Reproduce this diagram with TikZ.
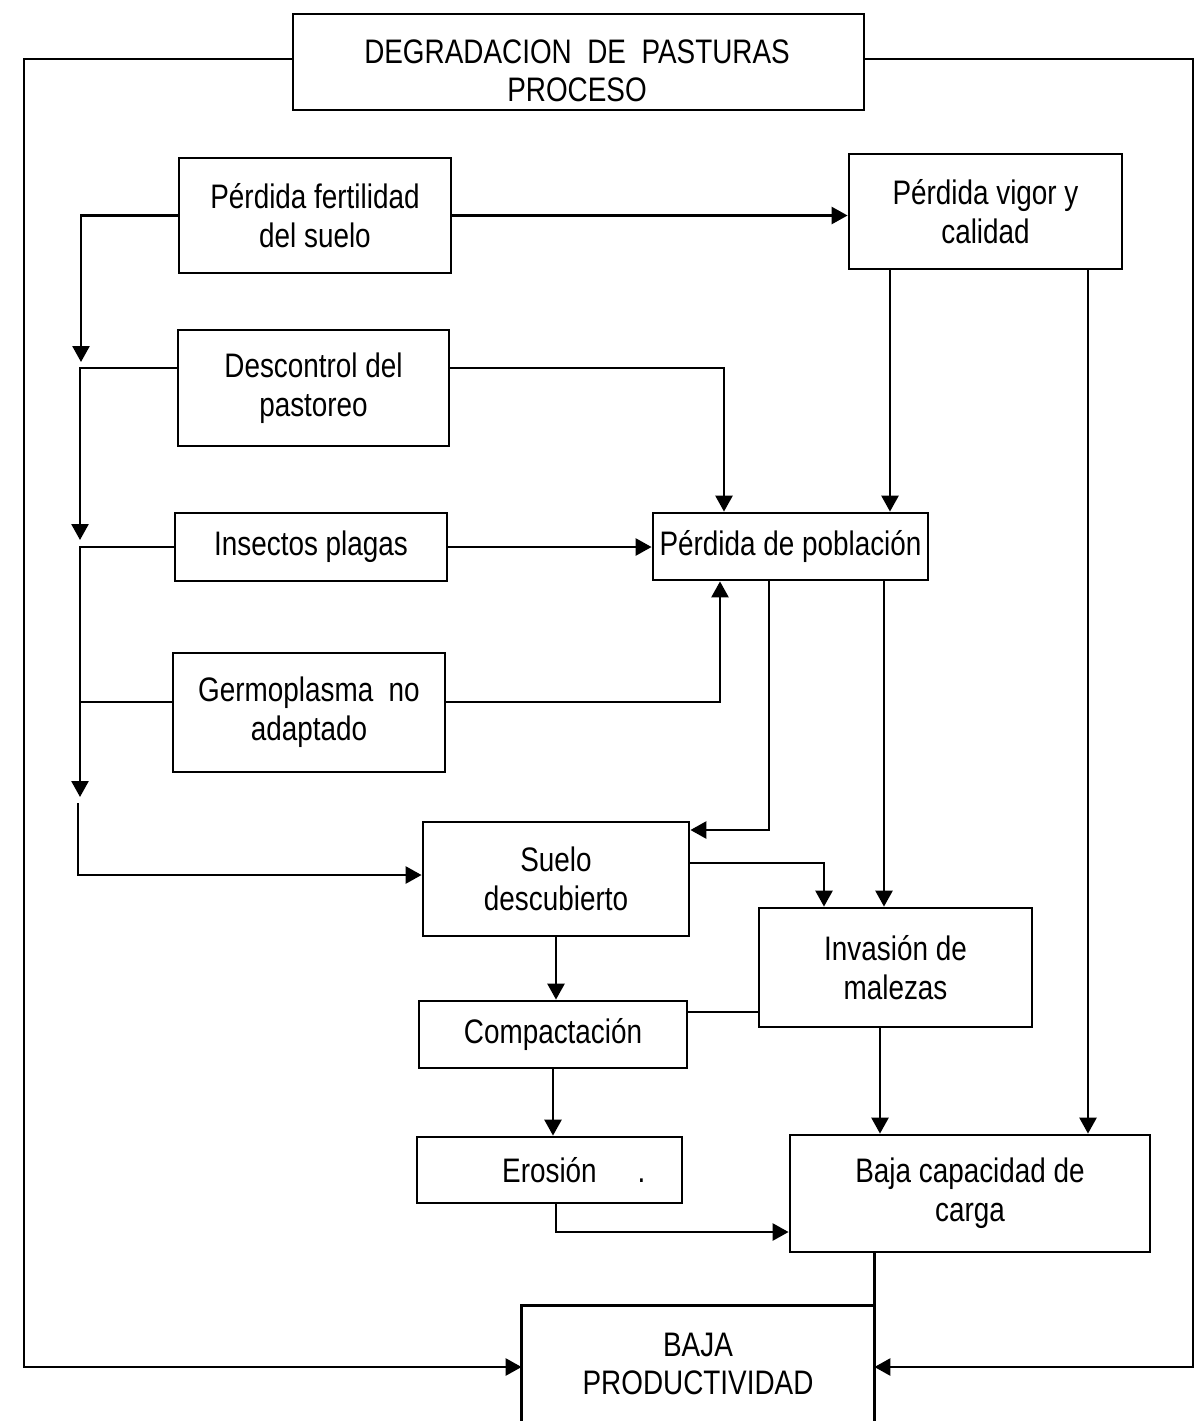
\documentclass[tikz,border=0pt]{standalone}
\usepackage{fontspec}
\setmainfont{Liberation Sans}[FakeStretch=0.82]
\usetikzlibrary{arrows.meta,calc}
\tikzset{
  box/.style={draw, line width=1.4pt, rectangle, inner sep=0pt, align=center,
    font=\fontsize{17}{19.5}\selectfont},
  lbl/.style={inner sep=0pt, align=center, font=\fontsize{17}{19}\selectfont},
  conn/.style={line width=1.3pt},
  arr/.style={conn, -{Triangle[length=8pt,width=8.5pt]}}
}
\begin{document}
\begin{tikzpicture}[x=0.5pt,y=-0.5pt]
\useasboundingbox (0,0) rectangle (1199,1421);
% boxes
\node[box, minimum width=285.5pt, minimum height=48pt] (deg) at (578.5,62) {};
\node[lbl] (degt) at (577,71) {DEGRADACION\ \ DE\ \ PASTURAS\\PROCESO};
\node[box, minimum width=136pt, minimum height=57.5pt] (pf) at (315,215.5) {Pérdida fertilidad\\del suelo};
\node[box, minimum width=136.5pt, minimum height=57.5pt] (pv) at (985.5,211.5) {Pérdida vigor y\\calidad};
\node[box, minimum width=135.5pt, minimum height=58pt] (dc) at (313.5,388) {Descontrol del\\pastoreo};
\node[box, minimum width=136pt, minimum height=34pt] (ip) at (311,547) {Insectos plagas};
\node[box, minimum width=137.5pt, minimum height=33.5pt] (pp) at (790.5,546.5) {Pérdida de población};
\node[box, minimum width=136pt, minimum height=59.5pt] (gm) at (309,712.5) {Germoplasma\ \ no\\adaptado};
\node[box, minimum width=133pt, minimum height=57pt] (sd) at (556,879) {Suelo\\descubierto};
\node[box, minimum width=136.5pt, minimum height=59.5pt] (im) at (895.5,967.5) {Invasión de\\malezas};
\node[box, minimum width=134pt, minimum height=33.5pt] (cp) at (553,1034.5) {Compactación};
\node[box, minimum width=132.5pt, minimum height=33pt] (er) at (549.5,1170) {Erosión\rlap{\hspace{1.2em}.}};
\node[box, minimum width=180pt, minimum height=58.5pt] (bc) at (970,1193.5) {Baja capacidad de\\carga};
\node[lbl, minimum width=176pt, minimum height=57.5pt, align=center] (bp) at (698,1363.5) {BAJA\\PRODUCTIVIDAD};
\draw[line width=1.4pt] (bp.south west) -- (bp.north west) -- (bp.north east) -- (bp.south east);
% coordinates
\coordinate (LT) at (24,59);
\coordinate (LB) at (24,1367);
\coordinate (RT) at (1193,59);
\coordinate (RB) at (1193,1367);
\coordinate (L1) at (81,215.5);
\coordinate (L1e) at (81,362);
\coordinate (L2) at (80,368);
\coordinate (L2e) at (80,540);
\coordinate (L3) at (80,547);
\coordinate (L3e) at (80,797);
\coordinate (G) at (80,702);
\coordinate (L4) at (78,803);
\coordinate (L4b) at (78,875);
\coordinate (D1) at (724,368);
\coordinate (G2) at (720,702);
\coordinate (P1) at (769,830);
\coordinate (P2) at (884,700);
\coordinate (V1) at (890,300);
\coordinate (V2) at (1088,300);
\coordinate (S1) at (824,863);
\coordinate (C1) at (700,1012);
\coordinate (E1) at (556,1232);
\coordinate (I1) at (880,1100);
% outer feedback lines
\draw[arr] (deg.west |- LT) -- (LT) -- (LB) -- (LB -| bp.west);
\draw[arr] (deg.east |- RT) -- (RT) -- (RB) -- (RB -| bp.east);
% left chain
\draw[arr] (pf.west) -- (L1) -- (L1e);
\draw[arr] (dc.west |- L2) -- (L2) -- (L2e);
\draw[arr] (ip.west) -- (L3) -- (L3e);
\draw[conn] (gm.west |- G) -- (G);
\draw[arr] (L4) -- (L4b) -- (L4b -| sd.west);
% right side
\draw[arr] (pf.east) -- (pf.east -| pv.west);
\draw[arr] (dc.east |- L2) -- (D1) -- (D1 |- pp.north);
\draw[arr] (ip.east) -- (ip.east -| pp.west);
\draw[arr] (gm.east |- G) -- (G2) -- (G2 |- pp.south);
\draw[arr] (V1 |- pv.south) -- (V1 |- pp.north);
\draw[arr] (V2 |- pv.south) -- (V2 |- bc.north);
\draw[arr] (P1 |- pp.south) -- (P1) -- (P1 -| sd.east);
\draw[arr] (P2 |- pp.south) -- (P2 |- im.north);
\draw[arr] (sd.east |- S1) -- (S1) -- (S1 |- im.north);
\draw[arr] (sd.south) -- (sd.south |- cp.north);
\draw[conn] (cp.east |- C1) -- (C1 -| im.west);
\draw[arr] (cp.south) -- (cp.south |- er.north);
\draw[arr] (E1 |- er.south) -- (E1) -- (E1 -| bc.west);
\draw[arr] (I1 |- im.south) -- (I1 |- bc.north);
\draw[conn] (bc.south -| bp.north east) -- (bp.north east);
\end{tikzpicture}
\end{document}
